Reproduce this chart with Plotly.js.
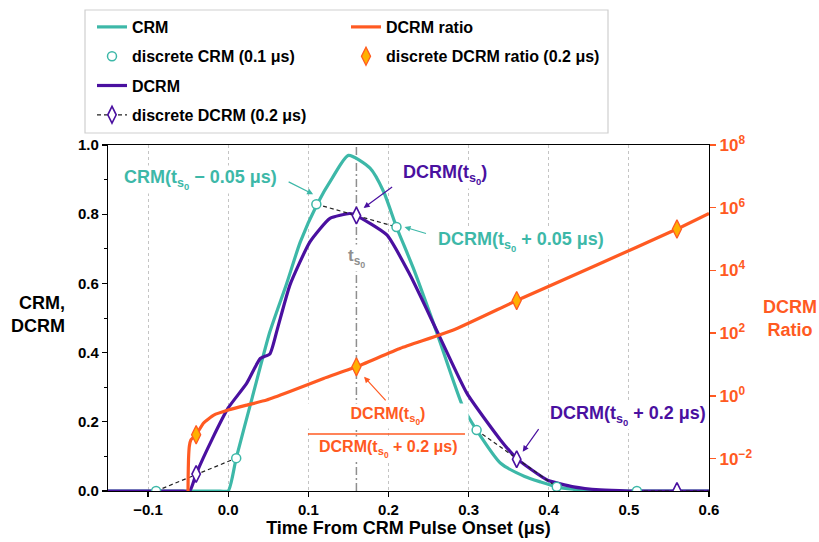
<!DOCTYPE html>
<html>
<head>
<meta charset="utf-8">
<script src="https://cdn.plot.ly/plotly-3.0.1.min.js"></script>
<style>html,body{margin:0;padding:0;background:#fff;}#chart{width:819px;height:542px;}</style>
</head>
<body>
<div id="chart"></div>
<script>
// ---- data ----
var crmX = [-0.15, -0.01, 0.0, 0.01, 0.03, 0.052, 0.073, 0.09, 0.111, 0.13, 0.15, 0.177, 0.194, 0.21, 0.231, 0.26, 0.293, 0.31, 0.34, 0.37, 0.39, 0.41, 0.43, 0.45, 0.47, 0.6];
var crmY = [0, 0, 0, 0.095, 0.27, 0.46, 0.60, 0.72, 0.829, 0.905, 0.97, 0.933, 0.865, 0.763, 0.644, 0.46, 0.243, 0.176, 0.08, 0.042, 0.026, 0.012, 0.005, 0.001, 0, 0];

var dcrmX = [-0.15, -0.06, -0.048, -0.04, -0.02, 0.0, 0.023, 0.04, 0.052, 0.061, 0.077, 0.102, 0.127, 0.152, 0.16, 0.198, 0.227, 0.26, 0.298, 0.34, 0.361, 0.398, 0.431, 0.464, 0.5, 0.6];
var dcrmY = [0, 0, 0, 0.049, 0.15, 0.24, 0.311, 0.383, 0.396, 0.465, 0.595, 0.72, 0.788, 0.802, 0.796, 0.74, 0.624, 0.465, 0.282, 0.147, 0.092, 0.032, 0.012, 0.003, 0.0, 0];

var crmDiscX = [-0.09, 0.01, 0.11, 0.21, 0.31, 0.41, 0.51];
var crmDiscY = [0.0, 0.095, 0.829, 0.763, 0.176, 0.012, 0.0];

// dashed segments joining pairs of CRM samples (null = break)
var segX = [-0.09, 0.01, null, 0.11, 0.21, null, 0.31, 0.41, null, 0.51, 0.61];
var segY = [0.0, 0.095, null, 0.829, 0.763, null, 0.176, 0.012, null, 0.0, 0.0];

var dcrmDiscX = [-0.04, null, 0.16, null, 0.36, null, 0.56];
var dcrmDiscY = [0.049, null, 0.796, null, 0.092, null, 0.0];

var ratioX = [-0.0503, -0.0500, -0.0495, -0.0485, -0.0465, -0.04, -0.031, -0.018, 0.0, 0.023, 0.048, 0.077, 0.119, 0.16, 0.215, 0.281, 0.36, 0.46, 0.56, 0.6];
var ratioY = [3e-4, 2.5e-3, 0.01, 0.025, 0.04, 0.058, 0.135, 0.245, 0.355, 0.51, 0.74, 1.38, 3.6, 8.5, 33, 126, 1100, 1.5e4, 2.1e5, 6.6e5];

var ratioDiscX = [-0.04, 0.16, 0.36, 0.56];
var ratioDiscY = [0.058, 8.5, 1100, 2.1e5];

var tS0 = 0.16;
var tS0Line = [0, 1];

var rightTickVals = [0.01, 1, 100, 1e4, 1e6, 1e8];
var rightTickText = ['10<sup>\u22122</sup>', '10<sup>0</sup>', '10<sup>2</sup>', '10<sup>4</sup>', '10<sup>6</sup>', '10<sup>8</sup>'];

// ---- styles ----
var TEAL = '#3db8a8', PURPLE = '#4a10a0', ORANGE = '#ff5a22', GOLD = '#ffb000', GRAY = '#8f8f8f';
var FONT = 'Liberation Sans, Arial, Helvetica, sans-serif';
var TS = 't<sub>s<span style="font-size:75%;baseline-shift:-35%">0</span></sub>';

var traces = [
  {x: [tS0, tS0], y: tS0Line, mode: 'lines', line: {color: GRAY, width: 1.5, dash: '8px,3px,2px,3px'}, showlegend: false, hoverinfo: 'skip'},
  {x: crmX, y: crmY, mode: 'lines', name: 'CRM', line: {color: TEAL, width: 3.2, shape: 'spline', smoothing: 0.6}, legend: 'legend', legendgroup: 'g1', legendrank: 1},
  {x: dcrmX, y: dcrmY, mode: 'lines', name: 'DCRM', line: {color: PURPLE, width: 3.2, shape: 'spline', smoothing: 0.5}, legend: 'legend', legendgroup: 'g3', legendrank: 3},
  {x: segX, y: segY, mode: 'lines', line: {color: '#222', width: 1.2, dash: '4px,3px'}, showlegend: false, hoverinfo: 'skip'},
  {x: crmDiscX, y: crmDiscY, mode: 'markers', name: 'discrete CRM (0.1 \u03bcs)', marker: {symbol: 'circle', size: 9, color: '#fff', line: {color: TEAL, width: 1.5}}, legend: 'legend', legendgroup: 'g2', legendrank: 2},
  {x: dcrmDiscX, y: dcrmDiscY, mode: 'lines+markers', name: 'discrete DCRM (0.2 \u03bcs)', connectgaps: false, line: {color: '#222', width: 1.2, dash: '4px,3px'}, marker: {symbol: 'diamond-tall', size: 12, color: '#fff', line: {color: PURPLE, width: 1.6}}, legend: 'legend', legendgroup: 'g4', legendrank: 4},
  {x: ratioX, y: ratioY, yaxis: 'y2', mode: 'lines', name: 'DCRM ratio', line: {color: ORANGE, width: 3.2, shape: 'spline', smoothing: 0.4}, legend: 'legend2', legendgroup: 'g5', legendrank: 5},
  {x: ratioDiscX, y: ratioDiscY, yaxis: 'y2', mode: 'markers', name: 'discrete DCRM ratio (0.2 \u03bcs)', marker: {symbol: 'diamond-tall', size: 13, color: GOLD, line: {color: ORANGE, width: 1.3}}, legend: 'legend2', legendgroup: 'g6', legendrank: 6}
];

function txt(text, x, y, color, size, extra) {
  var a = {text: text, x: x, y: y, xref: 'x', yref: 'y', showarrow: false, xanchor: 'center', yanchor: 'middle',
    font: {family: FONT, size: size, color: color, weight: 'bold'}, bgcolor: '#fff', borderpad: 1};
  if (extra) for (var k in extra) a[k] = extra[k];
  return a;
}
function arrow(x, y, ax, ay, color) {
  return {text: '', x: x, y: y, xref: 'x', yref: 'y', ax: ax, ay: ay, showarrow: true,
    arrowhead: 2, arrowsize: 1, arrowwidth: 1.2, arrowcolor: color};
}

var annotations = [
  txt('CRM(' + TS + ' \u2212 0.05 \u03bcs)', -0.034, 0.899, TEAL, 18),
  txt('DCRM(' + TS + ')', 0.27, 0.916, PURPLE, 18),
  txt('DCRM(' + TS + ' + 0.05 \u03bcs)', 0.365, 0.7225, TEAL, 18),
  txt(TS, tS0, 0.673, GRAY, 17),
  txt('DCRM(' + TS + ')', 0.2, 0.217, ORANGE, 16, {width: 158}),
  txt('DCRM(' + TS + ' + 0.2 \u03bcs)', 0.2, 0.121, ORANGE, 16),
  txt('DCRM(' + TS + ' + 0.2 \u03bcs)', 0.4985, 0.217, PURPLE, 18),
  arrow(0.106, 0.858, -26, -13, TEAL),
  arrow(0.169, 0.818, 30, -22, PURPLE),
  arrow(0.22, 0.763, 23, 7, TEAL),
  arrow(0.1695, 0.33, 23, 25, ORANGE),
  arrow(0.3675, 0.1136, 17, -24, PURPLE),
  {text: 'CRM,<br>DCRM', xref: 'paper', yref: 'paper', x: -0.068, y: 0.509, xanchor: 'right', yanchor: 'middle', align: 'right', showarrow: false,
    font: {family: FONT, size: 18, color: '#000', weight: 'bold'}},
  {text: 'DCRM<br>Ratio', xref: 'paper', yref: 'paper', x: 1.135, y: 0.5, xanchor: 'center', yanchor: 'middle', align: 'center', showarrow: false,
    font: {family: FONT, size: 18, color: ORANGE, weight: 'bold'}}
];

var legendFont = {family: FONT, size: 16, color: '#000', weight: 'bold'};
var layout = {
  width: 819, height: 542,
  margin: {l: 108, r: 110, t: 145, b: 51},
  paper_bgcolor: '#fff', plot_bgcolor: '#fff',
  font: {family: FONT, color: '#000', weight: 'bold'},
  xaxis: {
    range: [-0.15, 0.6], tick0: 0, dtick: 0.1, tickformat: '.1f',
    ticks: 'outside', ticklen: 5, tickwidth: 1.2, tickcolor: '#000',
    showline: true, linecolor: '#000', linewidth: 1.2, mirror: true,
    showgrid: true, gridcolor: '#c4c4c4', griddash: 'dot', gridwidth: 1, zeroline: false,
    tickfont: {family: FONT, size: 15, color: '#000', weight: 'bold'},
    title: {text: 'Time From CRM Pulse Onset (\u03bcs)', font: {family: FONT, size: 18, color: '#000', weight: 'bold'}, standoff: 4}
  },
  yaxis: {
    range: [0, 1], dtick: 0.2, tickformat: '.1f',
    ticks: 'outside', ticklen: 5, tickwidth: 1.2, tickcolor: '#000',
    minor: {dtick: 0.1, ticks: 'outside', ticklen: 3, tickwidth: 1, tickcolor: '#000', showgrid: false},
    showline: true, linecolor: '#000', linewidth: 1.2, showgrid: false, zeroline: false,
    tickfont: {family: FONT, size: 15, color: '#000', weight: 'bold'}
  },
  yaxis2: {
    overlaying: 'y', side: 'right', type: 'log', range: [-3.03, 8],
    tickmode: 'array', tickvals: rightTickVals, ticktext: rightTickText,
    ticks: 'outside', ticklen: 6, tickwidth: 1.5, tickcolor: ORANGE,
    showline: true, linecolor: '#000', linewidth: 1.2, showgrid: false, zeroline: false,
    tickfont: {family: FONT, size: 17, color: ORANGE, weight: 'bold'}
  },
  legend: {xref: 'paper', yref: 'container', x: (92 - 108) / 601, y: 1 - 10 / 542, xanchor: 'left', yanchor: 'top',
    orientation: 'v', traceorder: 'grouped', tracegroupgap: 5.5, bgcolor: 'rgba(0,0,0,0)', borderwidth: 0, font: legendFont},
  legend2: {xref: 'paper', yref: 'container', x: (346 - 108) / 601, y: 1 - 10 / 542, xanchor: 'left', yanchor: 'top',
    orientation: 'v', traceorder: 'grouped', tracegroupgap: 5.5, bgcolor: 'rgba(0,0,0,0)', borderwidth: 0, font: legendFont},
  shapes: [
    {type: 'rect', xref: 'paper', yref: 'paper', x0: (85 - 108) / 601, x1: (608 - 108) / 601, y0: (491 - 133) / 346, y1: (491 - 10) / 346,
      line: {color: '#cfcfcf', width: 1.2}, fillcolor: '#fff', layer: 'below'},
    {type: 'line', xref: 'x', yref: 'y', x0: 0.0995, x1: 0.2955, y0: 0.165, y1: 0.165, line: {color: ORANGE, width: 1.5}}
  ],
  annotations: annotations,
  showlegend: true
};

Plotly.newPlot('chart', traces, layout, {displayModeBar: false, staticPlot: true});
</script>
</body>
</html>
